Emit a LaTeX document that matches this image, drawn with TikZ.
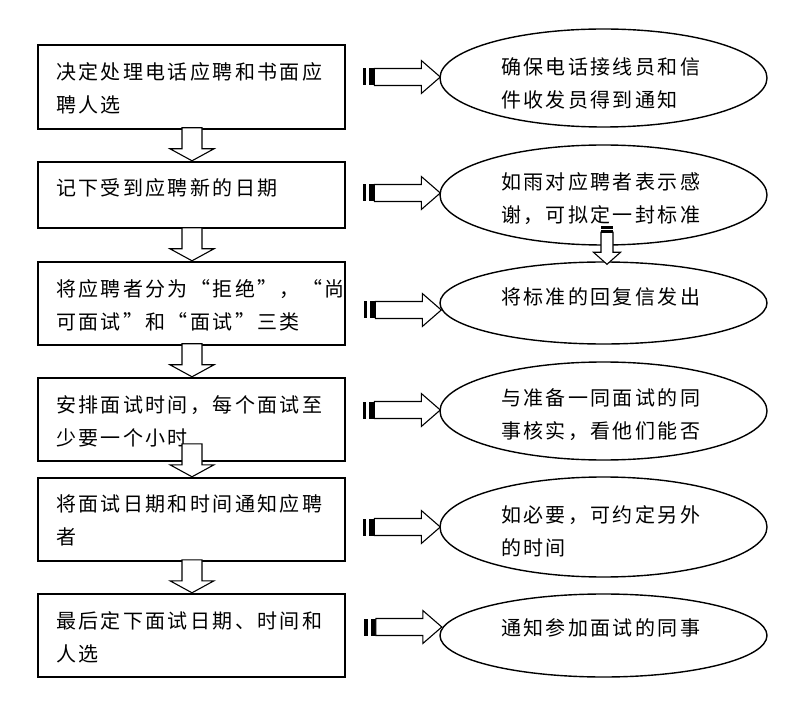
\documentclass[tikz,border=0pt]{standalone}
\usepackage{fontspec}
\newfontfamily\cjk[LetterSpace=12]{Noto Sans CJK SC}
\usetikzlibrary{shapes.geometric,calc}
\tikzset{
  box/.style={draw, line width=2.4pt, minimum width=307pt, inner sep=0pt},
  oval/.style={ellipse, draw, line width=1.4pt, minimum width=327pt, inner sep=0pt},
  txt/.style={font=\cjk\fontsize{20}{33}\selectfont, align=left, inner sep=0pt},
  btxt/.style={txt, text width=271pt},
  etxt/.style={txt, text width=205pt},
  blockline/.style={draw, fill=white, line width=1.1pt, line join=miter},
  pics/rarrow/.style={code={
    \fill (-77.5,-8.5) rectangle (-74,8.5);
    \fill (-71,-8.5) rectangle (-66,8.5);
    \path[blockline] (-66,-8.5) -- (-19,-8.5) -- (-19,-16.5) -- (0,0) -- (-19,16.5) -- (-19,8.5) -- (-66,8.5) -- cycle;
  }},
  pics/darrow/.style={code={
    \path[blockline] (-10,-33) -- (10,-33) -- (10,-12) -- (22,-12) -- (0,0) -- (-22,-12) -- (-10,-12) -- cycle;
  }},
  pics/dsarrow/.style={code={
    \fill (-6,-38) rectangle (6,-35.6);
    \fill (-6,-34.6) rectangle (6,-32);
    \path[blockline] (-6,-32) -- (6,-32) -- (6,-12) -- (13.5,-12) -- (0,0) -- (-13.5,-12) -- (-6,-12) -- cycle;
  }}
}
\begin{document}
\begin{tikzpicture}[x=1pt,y=-1pt]
\useasboundingbox (0,0) rectangle (811,708);

% left boxes
\node[box, minimum height=84pt] (b1) at (191.5,87) {};
\node[box, minimum height=66pt] (b2) at (191.5,195) {};
\node[box, minimum height=83pt] (b3) at (191.5,303.5) {};
\node[box, minimum height=83pt] (b4) at (191.5,419.5) {};
\node[box, minimum height=83pt] (b5) at (191.5,519.5) {};
\node[box, minimum height=83pt] (b6) at (191.5,635.5) {};

\node[btxt] (tb1) at ($(b1.center)+(0,1.5)$) {决定处理电话应聘和书面应\\聘人选};
\node[btxt] (tb2) at ($(b2.center)+(0,-7)$) {记下受到应聘新的日期};
\node[btxt] (tb3) at ($(b3.center)+(0,2)$) {将应聘者分为“拒绝”，“尚\\可面试”和“面试”三类};
\node[btxt] (tb4) at ($(b4.center)+(0,1.5)$) {安排面试时间，每个面试至\\少要一个小时};
\node[btxt] (tb5) at ($(b5.center)+(0,0.5)$) {将面试日期和时间通知应聘\\者};
\node[btxt] (tb6) at ($(b6.center)+(0,2)$) {最后定下面试日期、时间和\\人选};

% right ellipses
\node[oval, minimum height=98pt] (e1) at (603.5,78) {};
\node[oval, minimum height=100pt] (e2) at (603.5,195) {};
\node[oval, minimum height=82pt] (e3) at (603.5,303) {};
\node[oval, minimum height=98pt] (e4) at (603.5,411) {};
\node[oval, minimum height=100pt] (e5) at (603.5,527) {};
\node[oval, minimum height=83pt] (e6) at (603.5,635.5) {};

\node[etxt] (te1) at ($(e1.center)+(0,5.5)$) {确保电话接线员和信\\件收发员得到通知};
\node[etxt] (te2) at ($(e2.center)+(0,4)$) {如雨对应聘者表示感\\谢，可拟定一封标准};
\node[etxt] (te3) at ($(e3.center)+(0,-6)$) {将标准的回复信发出};
\node[etxt] (te4) at ($(e4.center)+(0,4)$) {与准备一同面试的同\\事核实，看他们能否};
\node[etxt] (te5) at ($(e5.center)+(0,4.5)$) {如必要，可约定另外\\的时间};
\node[etxt] (te6) at ($(e6.center)+(0,-7.5)$) {通知参加面试的同事};

% down arrows between boxes
\pic at ($(b2.north)+(0.5,0)$) {darrow};
\pic at ($(b3.north)+(0.5,0)$) {darrow};
\pic at ($(b4.north)+(0.5,0)$) {darrow};
\pic at ($(b5.north)+(0.5,0)$) {darrow};
\pic at ($(b6.north)+(0.5,0)$) {darrow};

% right arrows box -> ellipse
\pic at ($(e1.west)+(1,-1)$) {rarrow};
\pic at ($(e2.west)+(1,-2)$) {rarrow};
\pic at ($(e3.west)+(2,7)$) {rarrow};
\pic at ($(e4.west)+(1,-1)$) {rarrow};
\pic at ($(e5.west)+(1,0)$) {rarrow};
\pic at ($(e6.west)+(2.5,-8.5)$) {rarrow};

% ellipse 2 -> ellipse 3
\pic at ($(e3.north)+(3.5,3)$) {dsarrow};
\end{tikzpicture}
\end{document}
